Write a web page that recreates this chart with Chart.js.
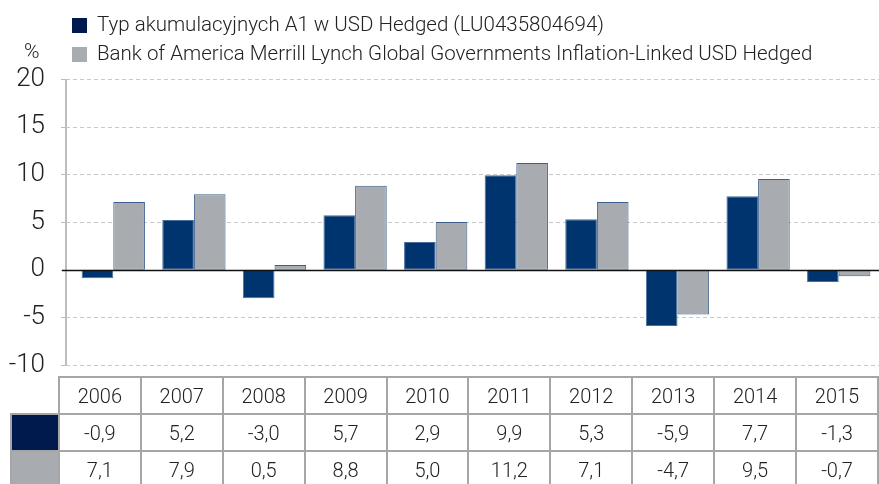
<!DOCTYPE html>
<html>
<head>
<meta charset="utf-8">
<script src="https://cdn.jsdelivr.net/npm/chart.js@4"></script>
<style>
  html, body { margin: 0; padding: 0; background: #fff; }
  .wrap { position: relative; width: 879px; height: 484px; overflow: hidden; }
  #myChart { position: absolute; left: 0; top: 0; }
  #dataTable {
    position: absolute; left: 10px; top: 376px;
    border-collapse: collapse;
    font-family: Roboto, "Liberation Sans", sans-serif; font-weight: 300;
    font-size: 20px; color: #222;
  }
  #dataTable td { border: 2px solid #a6a6a6; text-align: center; padding: 0; width: 80px; height: 35px; }
  #dataTable td.sw { width: 46px; }
  #dataTable td.blank { border-top: none; border-left: none; }
</style>
</head>
<body>
<div class="wrap">
  <canvas id="myChart" width="879" height="484"></canvas>
  <table id="dataTable"></table>
</div>
<script>
const years = ["2006", "2007", "2008", "2009", "2010", "2011", "2012", "2013", "2014", "2015"];
const fundValues = [-0.9, 5.2, -3.0, 5.7, 2.9, 9.9, 5.3, -5.9, 7.7, -1.3];
const indexValues = [7.1, 7.9, 0.5, 8.8, 5.0, 11.2, 7.1, -4.7, 9.5, -0.7];
const seriesNames = [
    "Typ akumulacyjnych A1 w USD Hedged (LU0435804694)",
    "Bank of America Merrill Lynch Global Governments Inflation-Linked USD Hedged"
];
const yTicks = [-10, -5, 0, 5, 10, 15, 20];

const navy = "#00346f";
const navyDark = "#001a4e";
const grey = "#a8abb0";
const FONT = 'Roboto, "Liberation Sans", sans-serif';

// table under the chart
function fmt(v) { return v.toFixed(1).replace(".", ","); }
const table = document.getElementById("dataTable");
let html = '<tr><td class="sw blank"></td>' + years.map(y => "<td>" + y + "</td>").join("") + "</tr>";
html += '<tr><td class="sw" style="background:' + navyDark + '"></td>' + fundValues.map(v => "<td>" + fmt(v) + "</td>").join("") + "</tr>";
html += '<tr><td class="sw" style="background:' + grey + '"></td>' + indexValues.map(v => "<td>" + fmt(v) + "</td>").join("") + "</tr>";
table.innerHTML = html;

const axisLeft = 66;

const decor = {
    id: "decor",
    beforeDatasetsDraw(chart) {
        const ctx = chart.ctx;
        const y = chart.scales.y;
        const area = chart.chartArea;
        ctx.save();
        // dashed grid
        ctx.strokeStyle = "#c8c8c8";
        ctx.lineWidth = 1;
        ctx.setLineDash([4, 3]);
        y.ticks.forEach(t => {
            if (t.value === 0) return;
            const py = Math.round(y.getPixelForValue(t.value)) + 0.5;
            ctx.beginPath();
            ctx.moveTo(axisLeft, py);
            ctx.lineTo(area.right, py);
            ctx.stroke();
        });
        ctx.setLineDash([]);
        // axis line and tick marks
        ctx.strokeStyle = "#bdbdbd";
        ctx.lineWidth = 2;
        ctx.beginPath();
        ctx.moveTo(axisLeft, area.top);
        ctx.lineTo(axisLeft, area.bottom);
        ctx.stroke();
        ctx.lineWidth = 1;
        y.ticks.forEach(t => {
            const py = Math.round(y.getPixelForValue(t.value)) + 0.5;
            ctx.beginPath();
            ctx.moveTo(axisLeft - 5, py);
            ctx.lineTo(axisLeft, py);
            ctx.stroke();
        });
        ctx.restore();
    },
    afterDatasetsDraw(chart) {
        const ctx = chart.ctx;
        const y = chart.scales.y;
        const area = chart.chartArea;
        const py = Math.round(y.getPixelForValue(0)) + 0.5;
        ctx.save();
        ctx.strokeStyle = "#111";
        ctx.lineWidth = 1.5;
        ctx.beginPath();
        ctx.moveTo(axisLeft - 4, py);
        ctx.lineTo(area.right, py);
        ctx.stroke();

        // legend
        const swatches = [navyDark, grey];
        ctx.font = "300 20.5px " + FONT;
        ctx.textBaseline = "middle";
        chart.data.datasets.forEach((ds, i) => {
            const cy = 25 + i * 29;
            ctx.fillStyle = swatches[i];
            ctx.fillRect(72, cy - 7, 15, 15);
            ctx.fillStyle = "#222";
            ctx.fillText(ds.label, 97, cy + 1);
        });
        // unit label
        ctx.fillStyle = "#222";
        ctx.font = "300 21px " + FONT;
        ctx.fillText("%", 24, 53);
        ctx.restore();
    }
};

new Chart(document.getElementById("myChart"), {
    type: "bar",
    data: {
        labels: years,
        datasets: [
            {
                label: seriesNames[0],
                data: fundValues,
                backgroundColor: navy,
                borderColor: "#4a6c9c",
                borderWidth: 1,
                borderSkipped: false
            },
            {
                label: seriesNames[1],
                data: indexValues,
                backgroundColor: grey,
                borderColor: "#3c5f90",
                borderWidth: 1,
                borderSkipped: false
            }
        ]
    },
    options: {
        responsive: false,
        animation: false,
        layout: { padding: { top: 79, bottom: 119, left: 0, right: 0 } },
        datasets: { bar: { categoryPercentage: 0.785, barPercentage: 1.0 } },
        plugins: { legend: { display: false }, tooltip: { enabled: false } },
        scales: {
            x: { display: false, offset: true },
            y: {
                min: -10,
                max: 20,
                afterFit(scale) { scale.width = 73; },
                afterBuildTicks(scale) { scale.ticks = yTicks.map(v => ({ value: v })); },
                grid: { display: false },
                border: { display: false },
                ticks: {
                    padding: 20,
                    color: "#222",
                    font: { family: FONT, size: 26, weight: "300" }
                }
            }
        }
    },
    plugins: [decor]
});
</script>
</body>
</html>
